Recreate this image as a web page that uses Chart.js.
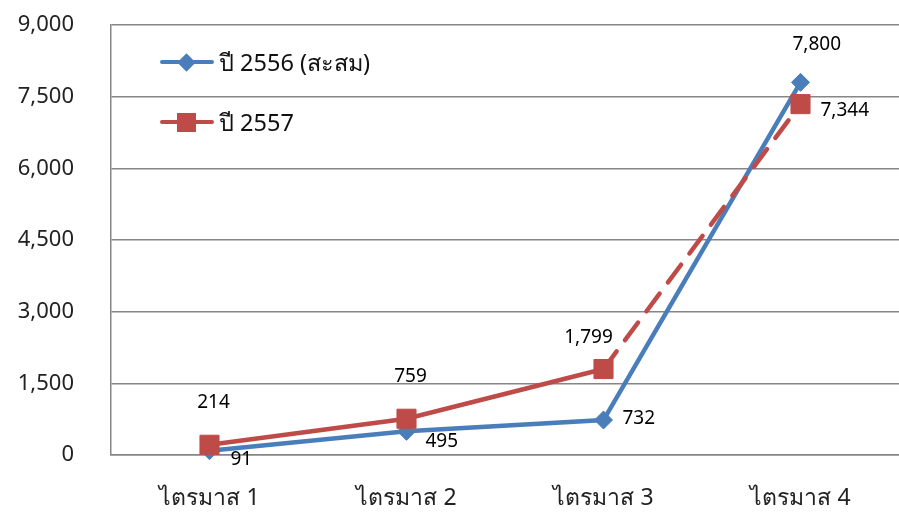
<!DOCTYPE html>
<html><head><meta charset="utf-8">
<script src="https://cdn.jsdelivr.net/npm/chart.js@4.4.1/dist/chart.umd.min.js"></script>
<style>
html,body{margin:0;padding:0;background:#fff;}
#wrap{position:relative;width:899px;height:516px;overflow:hidden;}
canvas{display:block;}
.leg{position:absolute;left:160px;height:30px;display:flex;align-items:center;font:23.5px 'Noto Sans','DejaVu Sans',sans-serif;color:#111;white-space:nowrap;}
.sym{position:relative;width:54px;height:30px;margin-right:5px;}
.ln{position:absolute;left:0;right:0;top:13px;height:4px;border-radius:2px;}
.dia{position:absolute;width:13px;height:13px;left:20px;top:8.5px;transform:rotate(45deg);}
.sq{position:absolute;width:19px;height:19px;left:17px;top:5.5px;}
</style></head>
<body>
<div id="wrap">
<canvas id="c" width="899" height="516"></canvas>
<div class="leg" id="leg0" style="top:47px"><div class="sym"><div class="ln" style="background:#4A7EBB"></div><div class="dia" style="background:#4A7EBB"></div></div><span id="t0"></span></div>
<div class="leg" id="leg1" style="top:107px"><div class="sym"><div class="ln" style="background:#BE4B48"></div><div class="sq" style="background:#BE4B48"></div></div><span id="t1"></span></div>
</div>
<script>
const categories = ['ไตรมาส 1', 'ไตรมาส 2', 'ไตรมาส 3', 'ไตรมาส 4'];
const seriesNames = ['ปี 2556 (สะสม)', 'ปี 2557'];
const values2556 = [91, 495, 732, 7800];
const values2557 = [214, 759, 1799, 7344];
const yTickValues = [0, 1500, 3000, 4500, 6000, 7500, 9000];

document.getElementById('t0').textContent = seriesNames[0];
document.getElementById('t1').textContent = seriesNames[1];

const FONT = "'Noto Sans','DejaVu Sans',sans-serif";
const BLUE = '#4A7EBB';
const RED = '#BE4B48';

// label offsets (style), per dataset per point: [dx, dy, align]
const labelStyle = [
  [[21, 9, 'left'], [19, 10, 'left'], [19, -1, 'left'], [-8, -38, 'left']],
  [[4, -42, 'center'], [4, -42, 'center'], [-15, -31, 'center'], [20, 6, 'left']]
];

const labelPlugin = {
  id: 'valueLabels',
  afterDatasetsDraw(chart) {
    const ctx = chart.ctx;
    ctx.save();
    ctx.font = '19px ' + FONT;
    ctx.fillStyle = '#000';
    ctx.textBaseline = 'middle';
    chart.data.datasets.forEach((ds, di) => {
      const meta = chart.getDatasetMeta(di);
      meta.data.forEach((pt, i) => {
        const [dx, dy, al] = labelStyle[di][i];
        ctx.textAlign = al;
        ctx.fillText(ds.data[i].toLocaleString('en-US'), pt.x + dx, pt.y + dy);
      });
    });
    ctx.restore();
  }
};

new Chart(document.getElementById('c'), {
  type: 'line',
  data: {
    labels: categories,
    datasets: [
      {
        label: seriesNames[0],
        data: values2556,
        borderColor: BLUE,
        backgroundColor: BLUE,
        borderWidth: 4.5,
        pointStyle: 'rectRot',
        pointRadius: 9,
        pointBorderWidth: 1,
        pointBorderColor: BLUE,
        pointBackgroundColor: BLUE,
        tension: 0,
        order: 2
      },
      {
        label: seriesNames[1],
        data: values2557,
        borderColor: RED,
        backgroundColor: RED,
        borderWidth: 4.5,
        pointStyle: 'rect',
        pointRadius: 13.5,
        pointBorderWidth: 1,
        pointBorderColor: RED,
        pointBackgroundColor: RED,
        tension: 0,
        borderCapStyle: 'round',
        segment: {
          borderDash: c => c.p1DataIndex === 3 ? [22, 14] : undefined
        },
        order: 1
      }
    ]
  },
  options: {
    responsive: false,
    animation: false,
    clip: false,
    layout: { autoPadding: false, padding: { top: 25, right: 0, left: 0, bottom: 0 } },
    plugins: { legend: { display: false }, tooltip: { enabled: false } },
    scales: {
      x: {
        offset: true,
        grid: { display: false },
        border: { display: true, color: '#868686', width: 1.5 },
        ticks: { font: { size: 23, family: FONT }, color: '#222', padding: 22 },
        afterFit: s => { s.height = 61; s.paddingLeft = 0; s.paddingRight = 0; }
      },
      y: {
        min: 0, max: 9000,
        afterBuildTicks: s => { s.ticks = yTickValues.map(v => ({ value: v })); },
        grid: { color: '#868686', lineWidth: 1.5, drawTicks: false },
        border: { display: true, color: '#868686', width: 1.5 },
        ticks: {
          font: { size: 22, family: FONT }, color: '#222', padding: 37,
          callback: v => v.toLocaleString('en-US')
        },
        afterFit: s => { s.width = 111; s.paddingTop = 0; s.paddingBottom = 0; }
      }
    }
  },
  plugins: [labelPlugin]
});
</script>
</body></html>
